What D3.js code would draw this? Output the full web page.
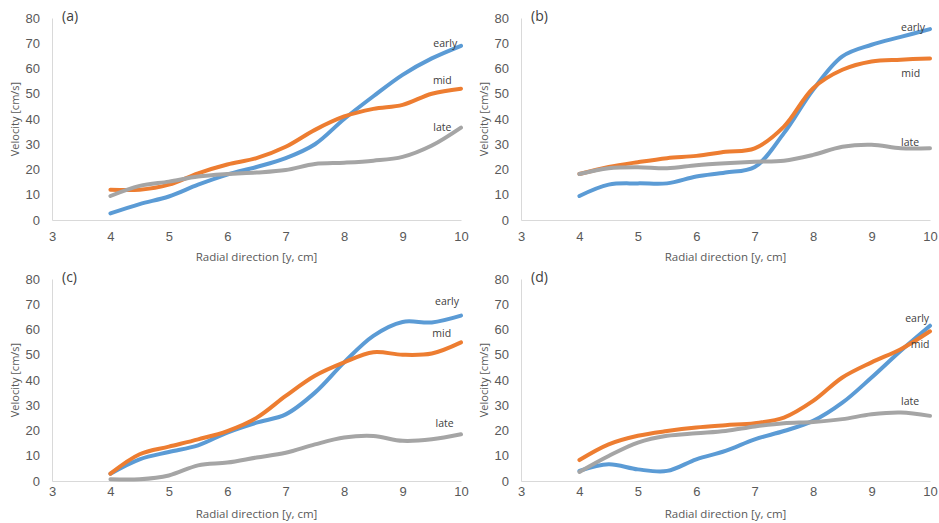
<!DOCTYPE html>
<html>
<head>
<meta charset="utf-8">
<script src="https://cdn.jsdelivr.net/npm/d3@7"></script>
<style>
  body { margin: 0; background: #fff; }
  svg { display: block; font-family: "Open Sans", sans-serif; }
</style>
</head>
<body>
<div id="chart"></div>
<script>
// radial positions (cm)
var radial = [4, 4.5, 5, 5.5, 6, 6.5, 7, 7.5, 8, 8.5, 9, 9.5, 10];
var xTicks = [3, 4, 5, 6, 7, 8, 9, 10];
var yTicks = [0, 10, 20, 30, 40, 50, 60, 70, 80];
var seriesNames = ["early", "mid", "late"];
var panelNames = ["(a)", "(b)", "(c)", "(d)"];

// velocity [cm/s]
var earlyA = [2.6, 6.3, 9.3, 14, 18, 21, 24.5, 30, 40, 49, 57.5, 64, 69];
var midA   = [12, 12, 14, 18.5, 22, 24.5, 29, 35.7, 41, 44, 45.6, 50, 52];
var lateA  = [9.5, 13.5, 15.2, 17.2, 18.2, 18.8, 19.8, 22.2, 22.7, 23.5, 25, 29.5, 36.6];

var earlyB = [9.5, 14, 14.5, 14.5, 17.2, 18.8, 21, 34.4, 51.6, 64.8, 69.4, 72.5, 75.6];
var midB   = [18.2, 21, 22.9, 24.5, 25.4, 27, 28.4, 37, 52.2, 59.5, 62.8, 63.5, 64];
var lateB  = [18.2, 20.5, 20.9, 20.5, 21.7, 22.5, 23.1, 23.5, 25.8, 29, 29.8, 28.4, 28.4];

var earlyC = [2.9, 8.6, 11.5, 14.1, 19.2, 23.1, 26.4, 35, 47, 57.5, 63, 62.8, 65.5];
var midC   = [2.9, 10.6, 13.6, 16.5, 19.8, 25, 33.7, 41.7, 47, 51, 50, 50.5, 54.9];
var lateC  = [0.7, 0.7, 2.2, 6.2, 7.3, 9.3, 11.2, 14.5, 17.2, 17.8, 15.9, 16.5, 18.5];

var earlyD = [4, 6.6, 4.6, 4.0, 8.6, 11.9, 16.5, 19.8, 23.8, 31, 41, 51.6, 61.5];
var midD   = [8.3, 14.5, 17.9, 19.8, 21.2, 22.1, 22.9, 25.1, 31.7, 41, 47, 52.2, 59.3];
var lateD  = [3.6, 9.9, 15.2, 17.9, 18.9, 19.8, 21.6, 22.9, 23.4, 24.5, 26.4, 27.1, 25.8];

var colors = {early: "#5B9BD5", mid: "#ED7D31", late: "#A5A5A5"};

// label anchors (data units) per panel
var labelAt = [
  {early: [9.73, 70], mid: [9.68, 55.4], late: [9.68, 36.8]},
  {early: [9.71, 76.4], mid: [9.67, 58.2], late: [9.66, 30.9]},
  {early: [9.76, 71.3], mid: [9.67, 58.6], late: [9.72, 23]},
  {early: [9.78, 64.5], mid: [9.83, 54.2], late: [9.66, 31.7]}
];

var panels = [
  {name: panelNames[0], left: 52,  top: 18,  tickPad: 12, titleY: 41, data: {early: earlyA, mid: midA, late: lateA}},
  {name: panelNames[1], left: 521, top: 18,  tickPad: 12, titleY: 41, data: {early: earlyB, mid: midB, late: lateB}},
  {name: panelNames[2], left: 52,  top: 279, tickPad: 6,  titleY: 37, data: {early: earlyC, mid: midC, late: lateC}},
  {name: panelNames[3], left: 521, top: 279, tickPad: 6,  titleY: 37, data: {early: earlyD, mid: midD, late: lateD}}
];

var width = 409, height = 202;

var svg = d3.select("#chart").append("svg")
    .attr("width", 939)
    .attr("height", 523);

svg.append("rect").attr("width", 939).attr("height", 523).attr("fill", "#fff");

var xScale = d3.scaleLinear().domain([3, 10]).range([0, width]);
var yScale = d3.scaleLinear().domain([0, 80]).range([height, 0]);

var line = d3.line()
    .x(function(d) { return xScale(d[0]); })
    .y(function(d) { return yScale(d[1]); })
    .curve(d3.curveCatmullRom.alpha(0.5));

panels.forEach(function(p, i) {
  var g = svg.append("g")
      .attr("transform", "translate(" + p.left + "," + p.top + ")");

  // x axis
  var xa = g.append("g")
      .attr("transform", "translate(0," + height + ")")
      .call(d3.axisBottom(xScale).tickValues(xTicks).tickFormat(d3.format("d"))
        .tickSize(0).tickPadding(p.tickPad));
  xa.select(".domain").attr("stroke", "#d9d9d9").attr("stroke-width", 1);
  xa.selectAll("text").attr("fill", "#595959").style("font-size", "13px");

  // y axis
  var ya = g.append("g")
      .call(d3.axisLeft(yScale).tickValues(yTicks).tickSize(0).tickPadding(12));
  ya.select(".domain").attr("stroke", "#d9d9d9").attr("stroke-width", 1);
  ya.selectAll("text").attr("fill", "#595959").style("font-size", "13px");

  // axis titles
  g.append("text")
      .attr("x", width / 2)
      .attr("y", height + p.titleY)
      .attr("text-anchor", "middle")
      .attr("fill", "#595959")
      .style("font-size", "11.5px")
      .text("Radial direction [y, cm]");

  g.append("text")
      .attr("transform", "translate(-33," + (height / 2) + ") rotate(-90)")
      .attr("text-anchor", "middle")
      .attr("fill", "#595959")
      .style("font-size", "11px")
      .text("Velocity [cm/s]");

  // panel tag
  g.append("text")
      .attr("x", 10)
      .attr("y", 3)
      .attr("fill", "#404040")
      .style("font-size", "14px")
      .text(p.name);

  // lines
  seriesNames.forEach(function(s) {
    var pts = radial.map(function(r, k) { return [r, p.data[s][k]]; });
    g.append("path")
        .attr("d", line(pts))
        .attr("fill", "none")
        .attr("stroke", colors[s])
        .attr("stroke-width", 4)
        .attr("stroke-linecap", "round");
  });

  // series labels
  seriesNames.forEach(function(s) {
    var at = labelAt[i][s];
    g.append("text")
        .attr("x", xScale(at[0]))
        .attr("y", yScale(at[1]))
        .attr("dy", "0.35em")
        .attr("text-anchor", "middle")
        .attr("fill", "#404040")
        .style("font-size", "10.5px")
        .text(s);
  });
});
</script>
</body>
</html>
